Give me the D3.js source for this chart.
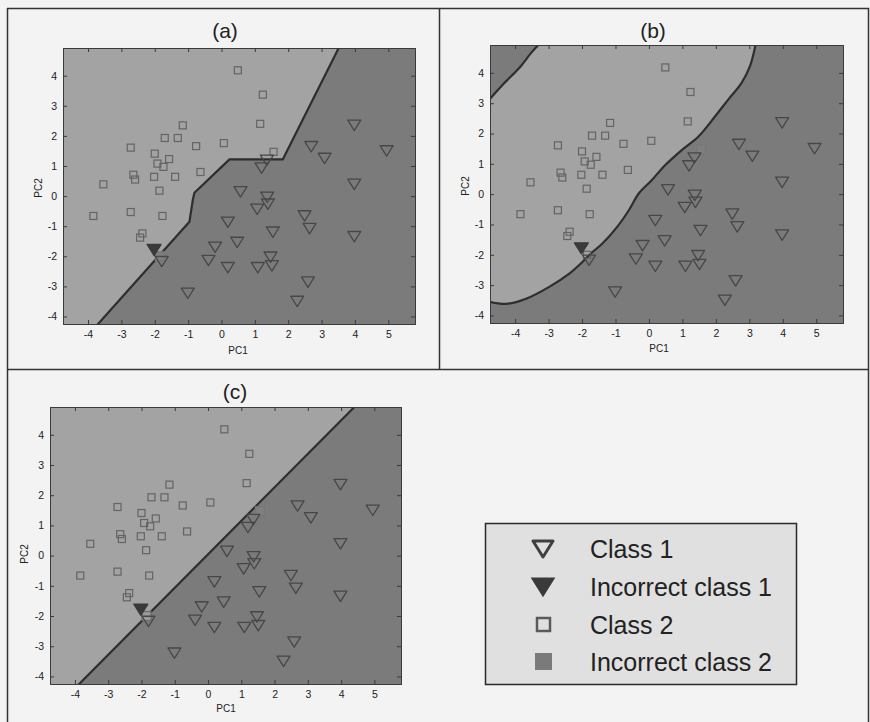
<!DOCTYPE html>
<html>
<head>
<meta charset="utf-8">
<script src="https://cdn.jsdelivr.net/npm/d3@7"></script>
<style>
  html, body { margin: 0; padding: 0; background: #f3f3f3; }
  svg { display: block; }
  text { font-family: "Liberation Sans", Arial, sans-serif; fill: #222; }
</style>
</head>
<body>
<svg id="fig" width="870" height="722"></svg>
<script>
// ---- data: class 2 samples (squares) ----
const class2X = [0.49, 1.24, 1.16, -1.16, -1.70, -1.31, -2.72, -0.76, 0.07, 1.56, -2.00, -1.92, -1.57, -1.74,
                 -2.64, -2.59, -2.02, -1.39, -0.63, -3.54, -1.86, -3.84, -2.72, -1.77, -2.37, -2.44, -1.85];
const class2Y = [4.18, 3.37, 2.40, 2.35, 1.93, 1.93, 1.61, 1.66, 1.76, 1.47, 1.41, 1.08, 1.23, 0.97,
                 0.71, 0.55, 0.64, 0.64, 0.80, 0.39, 0.18, -0.66, -0.53, -0.66, -1.24, -1.38, -2.00];

// ---- data: class 1 samples (triangles) ----
const class1X = [3.98, 2.69, 3.09, 4.95, 1.20, 1.36, 3.98, 0.57, 1.37, 1.39, 1.07, 0.19, 2.49, 2.64,
                 1.54, 3.98, 0.47, -0.19, -0.39, 0.19, 1.09, 1.51, 1.47, -1.79, -1.01, 2.59, 2.27, -2.02];
const class1Y = [2.35, 1.64, 1.25, 1.50, 0.93, 1.19, 0.39, 0.14, -0.04, -0.27, -0.44, -0.87, -0.66, -1.08,
                 -1.20, -1.35, -1.54, -1.70, -2.14, -2.38, -2.38, -2.32, -2.03, -2.18, -3.23, -2.86, -3.50, -1.79];

// misclassified samples per model (indices into the arrays above)
const wrongClass1 = { a: [27], b: [27], c: [27] };
const wrongClass2 = { a: [26], b: [9], c: [26, 9] };

// ---- decision boundaries (PC1, PC2) ----
// (a) piecewise-linear boundary
const boundaryA = [[-3.74, -4.30], [-0.96, -0.85], [-0.86, -0.13], [-0.81, 0.11], [0.24, 1.22],
                   [1.84, 1.22], [3.55, 5.00]];
// (b) smooth main boundary, top edge down to left edge
const boundaryB = [[3.20, 5.00], [3.02, 4.22], [2.77, 3.67], [2.37, 3.12], [1.98, 2.57], [1.48, 1.90],
                   [0.99, 1.46], [0.49, 0.96], [0.09, 0.47], [-0.30, 0.03], [-0.60, -0.53], [-0.95, -1.08],
                   [-1.39, -1.63], [-1.72, -1.94], [-1.99, -2.24], [-2.38, -2.62], [-2.98, -3.06],
                   [-3.67, -3.45], [-4.27, -3.62], [-4.80, -3.54]];
// (b) boundary cutting the upper-left corner, left edge to top edge
const cornerB = [[-4.80, 3.08], [-4.37, 3.61], [-3.87, 4.17], [-3.52, 4.66], [-3.24, 5.00]];
// (c) linear boundary
const boundaryC = [[-3.90, -4.28], [4.40, 4.92]];

const xTicks = [-4, -3, -2, -1, 0, 1, 2, 3, 4, 5];
const yTicks = [-4, -3, -2, -1, 0, 1, 2, 3, 4];
const xDomain = [-4.75, 5.8];
const yDomain = [-4.25, 4.92];

const legendLabels = ["Class 1", "Incorrect class 1", "Class 2", "Incorrect class 2"];

// ---- styling ----
const LIGHT = "#a3a3a3", DARK = "#7b7b7b", LINE = "#2e2e2e";

const svg = d3.select("#fig");

// figure frame and dividers
const frame = svg.append("g").attr("stroke", "#333").attr("stroke-width", 1.5).attr("fill", "none");
frame.append("line").attr("x1", 7).attr("x2", 869).attr("y1", 8.5).attr("y2", 8.5);
frame.append("line").attr("x1", 7.5).attr("x2", 7.5).attr("y1", 8).attr("y2", 722);
frame.append("line").attr("x1", 868.5).attr("x2", 868.5).attr("y1", 8).attr("y2", 722);
frame.append("line").attr("x1", 439.5).attr("x2", 439.5).attr("y1", 8).attr("y2", 370);
frame.append("line").attr("x1", 7).attr("x2", 869).attr("y1", 369.5).attr("y2", 369.5);

const panels = [
  { key: "a", title: "(a)", box: { x0: 63, x1: 415, y0: 48, y1: 324 }, titleX: 225, titleY: 38,
    pc1: [238, 354], pc2: [42, 188] },
  { key: "b", title: "(b)", box: { x0: 490, x1: 843, y0: 45, y1: 323 }, titleX: 653, titleY: 38,
    pc1: [659, 352], pc2: [469, 186] },
  { key: "c", title: "(c)", box: { x0: 50, x1: 401, y0: 407, y1: 684 }, titleX: 235, titleY: 399,
    pc1: [226, 712], pc2: [28, 554] }
];

const triPath = (w) => {
  const h = w * 0.8;
  return `M${-w / 2},${-h / 2}L${w / 2},${-h / 2}L0,${h / 2}Z`;
};

panels.forEach(p => {
  const b = p.box;
  const x = d3.scaleLinear().domain(xDomain).range([b.x0, b.x1]);
  const y = d3.scaleLinear().domain(yDomain).range([b.y1, b.y0]);
  const g = svg.append("g");

  const clipId = "clip-" + p.key;
  svg.append("clipPath").attr("id", clipId)
    .append("rect").attr("x", b.x0).attr("y", b.y0).attr("width", b.x1 - b.x0).attr("height", b.y1 - b.y0);

  const regions = g.append("g").attr("clip-path", `url(#${clipId})`);
  regions.append("rect").attr("x", b.x0).attr("y", b.y0)
    .attr("width", b.x1 - b.x0).attr("height", b.y1 - b.y0).attr("fill", DARK);

  const lin = d3.line().x(d => x(d[0])).y(d => y(d[1]));
  const smooth = d3.line().x(d => x(d[0])).y(d => y(d[1])).curve(d3.curveCatmullRom.alpha(0.5));
  const xl = xDomain[0] - 0.3;

  let lightPath, lines = [];
  if (p.key === "a") {
    const first = boundaryA[0], last = boundaryA[boundaryA.length - 1];
    lightPath = lin(boundaryA) + `L${x(xl)},${y(last[1])}L${x(xl)},${y(first[1])}Z`;
    lines.push(lin(boundaryA));
  } else if (p.key === "b") {
    const top = boundaryB[0];
    lightPath = smooth(cornerB) + `L${x(top[0])},${y(top[1])}` +
      smooth(boundaryB).replace(/^M/, "L") + "Z";
    lines.push(smooth(boundaryB));
    lines.push(smooth(cornerB));
  } else {
    const first = boundaryC[0], last = boundaryC[1];
    lightPath = lin(boundaryC) + `L${x(xl)},${y(last[1])}L${x(xl)},${y(first[1])}Z`;
    lines.push(lin(boundaryC));
  }
  regions.append("path").attr("d", lightPath).attr("fill", LIGHT);
  lines.forEach(d => regions.append("path").attr("d", d).attr("fill", "none")
    .attr("stroke", LINE).attr("stroke-width", 2.2).attr("stroke-linejoin", "round"));

  // markers
  const wrong1 = new Set(wrongClass1[p.key]);
  const wrong2 = new Set(wrongClass2[p.key]);
  const marks = g.append("g").attr("clip-path", `url(#${clipId})`);

  class2X.forEach((vx, i) => {
    const bad = wrong2.has(i);
    const onEdge = bad && i === 26 && p.key === "c";
    const s = bad ? 9 : 7;
    marks.append("rect")
      .attr("x", x(vx) - s / 2).attr("y", y(class2Y[i]) - s / 2)
      .attr("width", s).attr("height", s)
      .attr("fill", bad ? (onEdge ? "#9a9a9a" : "#7f7f7f") : "none")
      .attr("stroke", bad ? (onEdge ? "#6a6a6a" : "#777") : "#646464").attr("stroke-width", 1.2);
  });
  class1X.forEach((vx, i) => {
    const bad = wrong1.has(i);
    marks.append("path")
      .attr("transform", `translate(${x(vx)},${y(class1Y[i])})`)
      .attr("d", triPath(bad ? 14 : 13))
      .attr("fill", bad ? "#3a3a3a" : "none")
      .attr("stroke", bad ? "#3a3a3a" : "#474747").attr("stroke-width", 1.3)
      .attr("stroke-linejoin", "round");
  });

  // axes with inward ticks on all sides
  const fmt = d => String(d);
  const axB = g.append("g").attr("transform", `translate(0,${b.y1})`)
    .call(d3.axisBottom(x).tickValues(xTicks).tickSize(-4).tickPadding(7).tickFormat(fmt));
  const axL = g.append("g").attr("transform", `translate(${b.x0},0)`)
    .call(d3.axisLeft(y).tickValues(yTicks).tickSize(-4).tickPadding(6).tickFormat(fmt));
  const axT = g.append("g").attr("transform", `translate(0,${b.y0})`)
    .call(d3.axisTop(x).tickValues(xTicks).tickSize(-4).tickFormat(""));
  const axR = g.append("g").attr("transform", `translate(${b.x1},0)`)
    .call(d3.axisRight(y).tickValues(yTicks).tickSize(-4).tickFormat(""));
  [axB, axL, axT, axR].forEach(ax => {
    ax.select(".domain").attr("stroke", "#3a3a3a").attr("stroke-width", 1);
    ax.selectAll(".tick line").attr("stroke", "#3a3a3a");
    ax.selectAll("text").attr("font-size", 10.5).attr("fill", "#222")
      .attr("font-family", "'Liberation Sans', Arial, sans-serif");
  });

  // titles and axis labels
  g.append("text").attr("x", p.titleX).attr("y", p.titleY).attr("text-anchor", "middle")
    .attr("font-size", 21).text(p.title);
  g.append("text").attr("x", p.pc1[0]).attr("y", p.pc1[1]).attr("text-anchor", "middle")
    .attr("font-size", 10).text("PC1");
  g.append("text").attr("transform", `translate(${p.pc2[0]},${p.pc2[1]}) rotate(-90)`)
    .attr("text-anchor", "middle").attr("font-size", 10).text("PC2");
});

// legend
const lg = svg.append("g");
lg.append("rect").attr("x", 485.5).attr("y", 523.5).attr("width", 311).attr("height", 161)
  .attr("fill", "#e0e0e0").attr("stroke", "#2a2a2a").attr("stroke-width", 1.5);
const rowY = [549, 587, 625, 662];
legendLabels.forEach((lab, i) => {
  const cy = rowY[i];
  if (i === 0) {
    lg.append("path").attr("transform", `translate(543,${cy})`).attr("d", triPath(20))
      .attr("fill", "none").attr("stroke", "#404040").attr("stroke-width", 3).attr("stroke-linejoin", "round");
  } else if (i === 1) {
    lg.append("path").attr("transform", `translate(543,${cy})`).attr("d", triPath(22))
      .attr("fill", "#3a3a3a").attr("stroke", "#3a3a3a").attr("stroke-width", 1.5);
  } else if (i === 2) {
    lg.append("rect").attr("x", 537).attr("y", cy - 7).attr("width", 13).attr("height", 13)
      .attr("fill", "none").attr("stroke", "#5a5a5a").attr("stroke-width", 2.5);
  } else {
    lg.append("rect").attr("x", 535).attr("y", cy - 9).attr("width", 17).attr("height", 17)
      .attr("fill", "#7a7a7a");
  }
  lg.append("text").attr("x", 590).attr("y", cy + 9).attr("font-size", 25).attr("fill", "#1e1e1e")
    .text(lab);
});
</script>
</body>
</html>
